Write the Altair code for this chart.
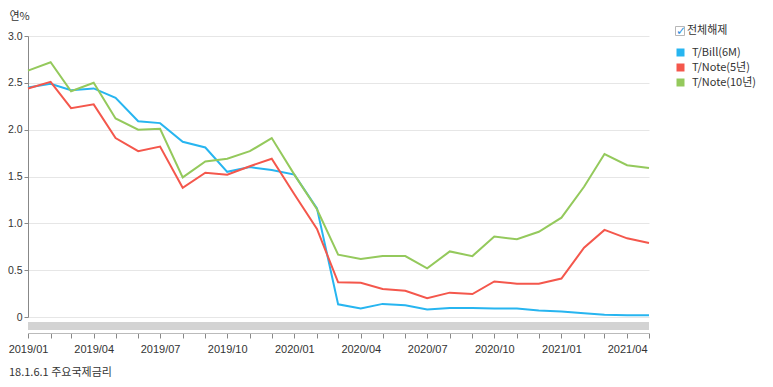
import altair as alt
import pandas as pd

months = pd.date_range("2019-01-01", "2021-05-01", freq="MS")

tbill_6m = [2.45, 2.49, 2.42, 2.44, 2.34, 2.09, 2.07, 1.87, 1.81, 1.55, 1.60, 1.57, 1.52, 1.16,
            0.135, 0.09, 0.14, 0.125, 0.08, 0.095, 0.095, 0.09, 0.09, 0.07, 0.06, 0.04, 0.025, 0.02, 0.02]
tnote_5y = [2.44, 2.51, 2.23, 2.27, 1.91, 1.77, 1.82, 1.38, 1.54, 1.52, 1.61, 1.69, 1.31, 0.94,
            0.37, 0.365, 0.30, 0.28, 0.20, 0.26, 0.245, 0.38, 0.355, 0.355, 0.41, 0.74, 0.93, 0.84, 0.79]
tnote_10y = [2.63, 2.72, 2.41, 2.50, 2.12, 2.00, 2.01, 1.49, 1.66, 1.69, 1.77, 1.91, 1.52, 1.15,
             0.665, 0.62, 0.65, 0.65, 0.52, 0.70, 0.65, 0.86, 0.83, 0.91, 1.06, 1.39, 1.74, 1.62, 1.59]

series_names = ["T/Bill(6M)", "T/Note(5년)", "T/Note(10년)"]
series_colors = ["#27b5f0", "#f4574c", "#94c95c"]
y_ticks = [0, 0.5, 1.0, 1.5, 2.0, 2.5, 3.0]
y_title = "연%"
chart_title = "18.1.6.1 주요국제금리"
toggle_label = "전체해제"

rows = []
for name, vals in zip(series_names, [tbill_6m, tnote_5y, tnote_10y]):
    for d, v in zip(months, vals):
        rows.append({"date": d, "series": name, "value": v})
df = pd.DataFrame(rows)

W, H = 621, 281
FONT = "Noto Sans CJK KR"
NUMFONT = "Liberation Sans"

x_vals = [alt.DateTime(year=d.year, month=d.month, date=1) for d in months]

lines = alt.Chart(df).mark_line(strokeWidth=2).encode(
    x=alt.X("date:T",
            scale=alt.Scale(domain=[alt.DateTime(year=2019, month=1, date=1),
                                    alt.DateTime(year=2021, month=5, date=1)], nice=False),
            axis=alt.Axis(title=None, values=x_vals, grid=False, offset=16,
                          labelExpr="month(datum.value) % 3 == 0 ? timeFormat(datum.value, '%Y/%m') : ''",
                          labelOverlap=False, labelFlush=False, tickSize=5, labelPadding=5,
                          domainColor="#bbbbbb", tickColor="#888888", labelColor="#333333",
                          labelFontSize=11, labelFont=NUMFONT)),
    y=alt.Y("value:Q",
            scale=alt.Scale(domain=[0, 3], nice=False),
            axis=alt.Axis(title=y_title, values=y_ticks, titleAngle=0, titleAlign="left",
                          titleBaseline="middle", titleX=-19, titleY=-20,
                          titleFontWeight="normal", titleFontSize=11, titleFont=FONT,
                          titleColor="#333333",
                          labelExpr="datum.value == 0 ? '0' : format(datum.value, '.1f')",
                          gridColor="#e6e6e6", domainColor="#888888", tickColor="#888888",
                          tickSize=4, labelColor="#333333", labelFontSize=10.5, labelFont=NUMFONT,
                          labelPadding=2)),
    color=alt.Color("series:N", scale=alt.Scale(domain=series_names, range=series_colors),
                    sort=series_names, legend=None),
)

legend_layer = alt.Chart(df).transform_filter("false").mark_square(filled=True, opacity=1).encode(
    color=alt.Color("series:N", scale=alt.Scale(domain=series_names, range=series_colors),
                    sort=series_names,
                    legend=alt.Legend(title=None, orient="none", legendX=647, legendY=11,
                                      symbolType="square", symbolSize=64, symbolStrokeWidth=0,
                                      symbolOpacity=1,
                                      labelFontSize=11, labelFont=FONT, labelColor="#333333",
                                      rowPadding=3, labelOffset=6)),
)

deco = pd.DataFrame({"label": [toggle_label], "check": ["✓"], "title": [chart_title]})

bar = alt.Chart(deco).mark_rect(color="#d3d3d3").encode(
    x=alt.value(0), x2=alt.value(W), y=alt.value(H + 5), y2=alt.value(H + 13))

box = alt.Chart(deco).mark_square(filled=False, stroke="#999999", strokeWidth=1, size=81).encode(
    x=alt.value(652), y=alt.value(-5))
check = alt.Chart(deco).mark_text(color="#2a8fe0", font="DejaVu Sans", fontSize=12,
                                  fontWeight="bold").encode(
    x=alt.value(653), y=alt.value(-5), text="check:N")
toggle = alt.Chart(deco).mark_text(align="left", baseline="middle", fontSize=11, font=FONT,
                                   color="#333333").encode(
    x=alt.value(659), y=alt.value(-5), text="label:N")
title = alt.Chart(deco).mark_text(align="left", baseline="bottom", fontSize=11, font=FONT,
                                  color="#333333").encode(
    x=alt.value(-19), y=alt.value(H + 61), text="title:N")

chart = alt.layer(bar, lines, legend_layer, box, check, toggle, title).resolve_scale(
    color="independent"
).properties(
    width=W, height=H,
    autosize=alt.AutoSizeParams(type="none"),
    padding={"left": 20, "top": 28, "right": 116, "bottom": 62},
).configure_view(stroke=None)

chart.save("out.html", embed_options={"renderer": "svg", "actions": False})
